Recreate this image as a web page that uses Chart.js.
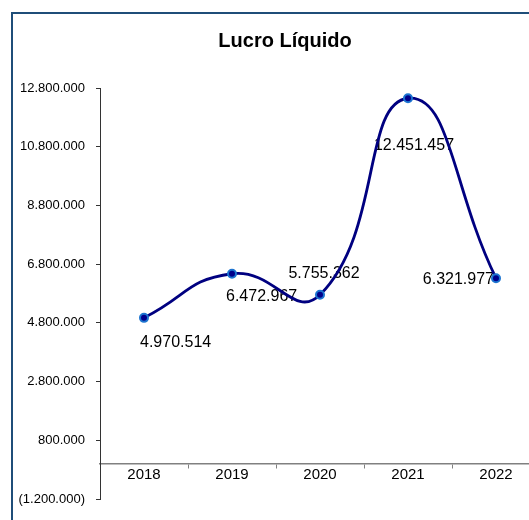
<!DOCTYPE html>
<html>
<head>
<meta charset="utf-8">
<script src="https://cdn.jsdelivr.net/npm/chart.js@4"></script>
<style>
  body { margin: 0; background: #fff; overflow: hidden; width: 529px; height: 520px; position: relative; }
  #frame { position: absolute; left: 11px; top: 12px; width: 600px; height: 600px;
           border-left: 2px solid #1F4E79; border-top: 2px solid #1F4E79; pointer-events: none; }
  canvas { position: absolute; left: 0; top: 0; }
</style>
</head>
<body>
<canvas id="myChart" width="570" height="520"></canvas>
<div id="frame"></div>
<script>
// --- DATA ---
const years = ['2018', '2019', '2020', '2021', '2022'];
const lucroLiquido = [4970514, 6472967, 5755362, 12451457, 6321977];
const yTickValues = [-1200000, 800000, 2800000, 4800000, 6800000, 8800000, 10800000, 12800000];
const yTickLabels = ['(1.200.000)', '800.000', '2.800.000', '4.800.000', '6.800.000', '8.800.000', '10.800.000', '12.800.000'];

// where each data label sits relative to its point (like the Excel original)
const labelSpots = [
    { align: 'left',   dx: -4, dy: 25 },
    { align: 'left',   dx: -6, dy: 23 },
    { align: 'center', dx: 4,  dy: -21 },
    { align: 'center', dx: 6,  dy: 47 },
    { align: 'right',  dx: -2, dy: 1 }
];

const FONT = 'Arial, "Liberation Sans", sans-serif';

// pt-BR style number: 1.234.567
function fmt(v) {
    const s = Math.round(Math.abs(v)).toString().replace(/\B(?=(\d{3})+(?!\d))/g, '.');
    return v < 0 ? '(' + s + ')' : s;
}

// labels are drawn before the line so points/line sit on top, as in the original
const dataLabels = {
    id: 'dataLabels',
    beforeDatasetsDraw(chart) {
        const c = chart.ctx;
        const meta = chart.getDatasetMeta(0);
        c.save();
        c.font = '16px ' + FONT;
        c.fillStyle = '#000';
        c.textBaseline = 'middle';
        meta.data.forEach((pt, i) => {
            const spot = labelSpots[i];
            c.textAlign = spot.align;
            c.fillText(fmt(lucroLiquido[i]), pt.x + spot.dx, pt.y + spot.dy);
        });
        c.restore();
    }
};

const ctx = document.getElementById('myChart').getContext('2d');
let myChart = new Chart(ctx, {
    type: 'line',
    data: {
        labels: years,
        datasets: [{
            label: 'Lucro Líquido',
            data: lucroLiquido,
            borderColor: '#000080',
            borderWidth: 2.8,
            tension: 0.5,
            pointRadius: 4,
            pointBorderWidth: 2,
            pointBackgroundColor: '#00008B',
            pointBorderColor: '#1C74D0',
            fill: false
        }]
    },
    options: {
        responsive: false,
        animation: false,
        layout: { padding: { left: 0, right: 0, top: 0, bottom: 21 } },
        scales: {
            x: {
                type: 'category',
                position: { y: 0 },
                offset: true,
                grid: { offset: true, drawOnChartArea: false, drawTicks: true, tickLength: 4, color: '#808080' },
                border: { display: true, color: '#808080', width: 1.5 },
                ticks: { color: '#000', font: { family: FONT, size: 15 }, padding: -2, maxRotation: 0 }
            },
            y: {
                min: -1200000,
                max: 12800000,
                afterBuildTicks: axis => { axis.ticks = yTickValues.map(v => ({ value: v })); },
                afterFit: axis => { axis.width = 100; },
                grid: { drawOnChartArea: false, drawTicks: true, tickLength: 4, color: '#333' },
                border: { display: true, color: '#333', width: 1 },
                ticks: {
                    color: '#000',
                    padding: 11,
                    font: { family: FONT, size: 13 },
                    callback: v => {
                        const i = yTickValues.indexOf(v);
                        return i >= 0 ? yTickLabels[i] : '';
                    }
                }
            },
            // empty spacer on the right: plot ends at 540 while the title stays centred at 285
            yRight: {
                position: 'right',
                min: -1200000,
                max: 12800000,
                afterFit: axis => { axis.width = 30; },
                grid: { display: false },
                border: { display: false },
                ticks: { display: false }
            }
        },
        plugins: {
            legend: { display: false },
            tooltip: { enabled: false },
            title: {
                display: true,
                text: 'Lucro Líquido',
                color: '#000',
                font: { family: FONT, size: 20, weight: 'bold', lineHeight: 1.2 },
                padding: { top: 29, bottom: 35 }
            }
        }
    },
    plugins: [dataLabels]
});
</script>
</body>
</html>
